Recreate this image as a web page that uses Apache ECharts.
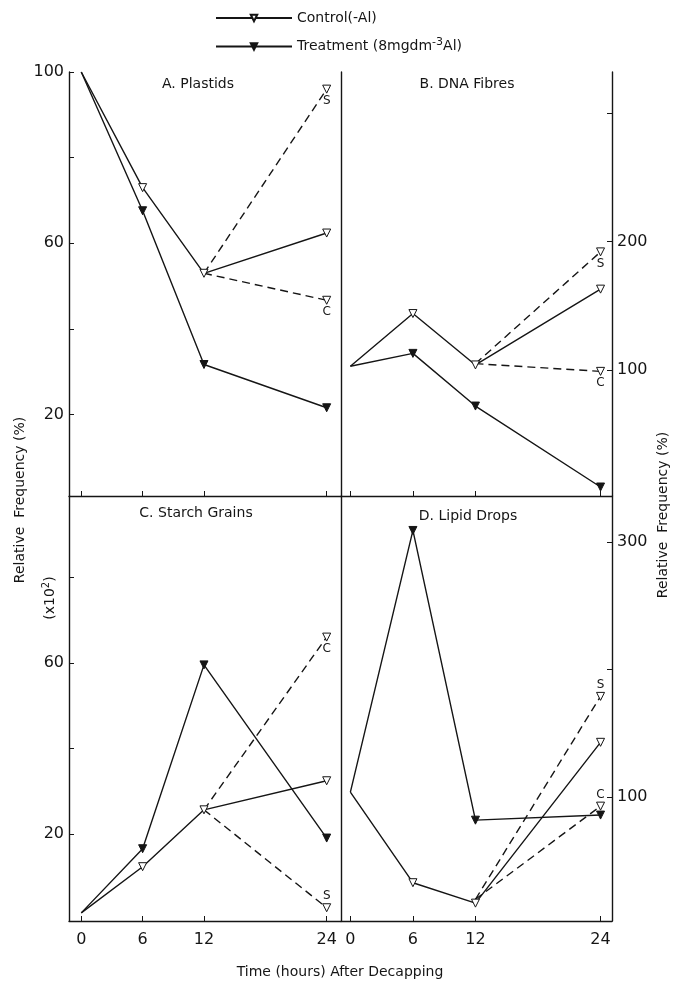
<!DOCTYPE html>
<html><head><meta charset="utf-8">
<script src="https://cdn.jsdelivr.net/npm/echarts@6/dist/echarts.min.js"></script>
<style>html,body{margin:0;padding:0;background:#fff}#c{width:673px;height:982px}</style>
</head><body><div id="c"></div>
<script>
// ---- data (hours after decapping) ----
const hours = [0, 6, 12, 24];
const branchHours = [12, 24];
// A. Plastids
const plastidsControl = [100, 73, 53, 62.4];
const plastidsTreatment = [100, 67.6, 31.7, 21.6];
const plastidsS = [53, 96];
const plastidsC = [53, 46.7];
// B. DNA Fibres
const dnaControl = [103, 144, 104, 163];
const dnaTreatment = [103, 113, 72, 9];
const dnaS = [105, 192];
const dnaC = [105, 99];
// C. Starch Grains
const starchControl = [1.5, 12.3, 25.6, 32.4];
const starchTreatment = [1.5, 16.5, 59.5, 19];
const starchS = [25.6, 2.7];
const starchC = [25.6, 66];
// D. Lipid Drops
const lipidControl = [104, 33, 17, 143];
const lipidTreatment = [104, 309, 82, 86];
const lipidS = [20, 179];
const lipidC = [20, 93];
// ticks / labels
const xTicks = [0, 6, 12, 24];
const plastidsTicks = [20, 40, 60, 80, 100];
const plastidsLabels = [20, 60, 100];
const dnaTicks = [100, 200, 300];
const dnaLabels = [100, 200];
const starchTicks = [20, 40, 60, 80];
const starchLabels = [20, 60];
const lipidTicks = [100, 200, 300];
const lipidLabels = [100, 300];

const FONT = '"DejaVu Sans", "Liberation Sans", sans-serif';
const INK = '#151515';
const lineCol = {color: INK, width: 1.4};

function mainSeries(name, idx, values, filled) {
  return {
    name: name, type: 'line', xAxisIndex: idx, yAxisIndex: idx,
    data: hours.map((h, i) => i === 0 ? {value: [h, values[i]], symbol: 'none'} : [h, values[i]]),
    symbol: 'triangle', symbolRotate: 180, symbolSize: 8,
    itemStyle: {color: filled ? INK : '#fff', borderColor: INK, borderWidth: 1},
    lineStyle: lineCol, z: 3, silent: true
  };
}
function branchSeries(name, idx, values, tag, pos) {
  return {
    name: name, type: 'line', xAxisIndex: idx, yAxisIndex: idx,
    data: [
      {value: [branchHours[0], values[0]], symbol: 'none'},
      {value: [branchHours[1], values[1]],
       label: {show: true, formatter: tag, position: pos, distance: 1, fontSize: 12, color: INK, fontFamily: FONT}}
    ],
    symbol: 'triangle', symbolRotate: 180, symbolSize: 8,
    itemStyle: {color: '#fff', borderColor: INK, borderWidth: 1},
    lineStyle: {color: INK, width: 1.4, type: [8, 5]}, z: 2, silent: true
  };
}

function xAxis(idx, min, max, labels) {
  return {
    gridIndex: idx, type: 'value', min: min, max: max,
    axisLine: {show: true, onZero: false, lineStyle: {color: INK, width: 1.4}},
    axisTick: {show: true, inside: true, length: 5, customValues: xTicks, lineStyle: {color: INK}},
    axisLabel: labels ? {customValues: xTicks, fontSize: 16, margin: 11, color: INK, fontFamily: FONT} : {show: false},
    splitLine: {show: false}
  };
}
function yAxis(idx, min, max, pos, ticks, labels) {
  return {
    gridIndex: idx, type: 'value', min: min, max: max, position: pos,
    axisLine: {show: true, onZero: false, lineStyle: {color: INK, width: 1.4}},
    axisTick: {show: true, inside: true, length: 5, customValues: ticks, lineStyle: {color: INK}},
    axisLabel: {customValues: labels, fontSize: 16, margin: 5, color: INK, fontFamily: FONT},
    splitLine: {show: false}
  };
}
function borderAxis(idx, pos) {
  return {
    gridIndex: idx, type: 'value', position: pos, min: 0, max: 1,
    axisLine: {show: true, onZero: false, lineStyle: {color: INK, width: 1.4}},
    axisTick: {show: false}, axisLabel: {show: false}, splitLine: {show: false}
  };
}

const chart = echarts.init(document.getElementById('c'), null, {renderer: 'canvas'});
chart.setOption({
  backgroundColor: '#fff',
  animation: false,
  grid: [
    {left: 69, top: 72, width: 272, height: 424},
    {left: 341, top: 72, width: 271, height: 424},
    {left: 69, top: 496, width: 272, height: 425},
    {left: 341, top: 496, width: 271, height: 425}
  ],
  xAxis: [
    xAxis(0, -1.2, 25.4, false),
    xAxis(1, -0.9, 25.1, false),
    xAxis(2, -1.2, 25.4, true),
    xAxis(3, -0.9, 25.1, true)
  ],
  yAxis: [
    yAxis(0, 1, 100, 'left', plastidsTicks, plastidsLabels),
    yAxis(1, 2, 332, 'right', dnaTicks, dnaLabels),
    yAxis(2, -0.4, 99, 'left', starchTicks, starchLabels),
    yAxis(3, 3, 336, 'right', lipidTicks, lipidLabels),
    borderAxis(1, 'left'),
    borderAxis(3, 'left')
  ],
  legend: {
    data: ['Control', 'Treatment'],
    orient: 'vertical', left: 210, top: 6, itemGap: 12,
    itemWidth: 76, itemHeight: 8, selectedMode: false,
    formatter: n => n === 'Control' ? 'Control(-Al)' : 'Treatment (8mgdm{sup|-3}Al)',
    textStyle: {fontSize: 14, color: INK, fontFamily: FONT,
      rich: {sup: {fontSize: 11, color: INK, fontFamily: FONT, padding: [0, 0, 8, 0]}}}
  },
  series: [
    mainSeries('Control', 0, plastidsControl, false),
    mainSeries('Treatment', 0, plastidsTreatment, true),
    branchSeries('plastidsS', 0, plastidsS, 'S', 'bottom'),
    branchSeries('plastidsC', 0, plastidsC, 'C', 'bottom'),
    mainSeries('Control', 1, dnaControl, false),
    mainSeries('Treatment', 1, dnaTreatment, true),
    branchSeries('dnaS', 1, dnaS, 'S', 'bottom'),
    branchSeries('dnaC', 1, dnaC, 'C', 'bottom'),
    mainSeries('Control', 2, starchControl, false),
    mainSeries('Treatment', 2, starchTreatment, true),
    branchSeries('starchS', 2, starchS, 'S', 'top'),
    branchSeries('starchC', 2, starchC, 'C', 'bottom'),
    mainSeries('Control', 3, lipidControl, false),
    mainSeries('Treatment', 3, lipidTreatment, true),
    branchSeries('lipidS', 3, lipidS, 'S', 'top'),
    branchSeries('lipidC', 3, lipidC, 'C', 'top')
  ],
  graphic: [
    {type: 'text', x: 198, y: 84, style: {text: 'A. Plastids', font: '14px ' + FONT, fill: INK, textAlign: 'center', textVerticalAlign: 'middle'}},
    {type: 'text', x: 467, y: 84, style: {text: 'B. DNA Fibres', font: '14px ' + FONT, fill: INK, textAlign: 'center', textVerticalAlign: 'middle'}},
    {type: 'text', x: 196, y: 513, style: {text: 'C. Starch Grains', font: '14px ' + FONT, fill: INK, textAlign: 'center', textVerticalAlign: 'middle'}},
    {type: 'text', x: 468, y: 516, style: {text: 'D. Lipid Drops', font: '14px ' + FONT, fill: INK, textAlign: 'center', textVerticalAlign: 'middle'}},
    {type: 'text', x: 20, y: 500, rotation: Math.PI / 2, style: {text: 'Relative  Frequency (%)', font: '14px ' + FONT, fill: INK, textAlign: 'center', textVerticalAlign: 'middle'}},
    {type: 'text', x: 50, y: 598, rotation: Math.PI / 2, style: {text: '(x10{sup|2})', font: '14px ' + FONT, fill: INK, textAlign: 'center', textVerticalAlign: 'middle',
      rich: {sup: {fontSize: 10, fill: INK, fontFamily: FONT, padding: [0, 0, 8, 0]}}}},
    {type: 'text', x: 663, y: 515, rotation: Math.PI / 2, style: {text: 'Relative  Frequency (%)', font: '14px ' + FONT, fill: INK, textAlign: 'center', textVerticalAlign: 'middle'}},
    {type: 'text', x: 340, y: 972, style: {text: 'Time (hours) After Decapping', font: '14px ' + FONT, fill: INK, textAlign: 'center', textVerticalAlign: 'middle'}}
  ]
});
</script></body></html>
